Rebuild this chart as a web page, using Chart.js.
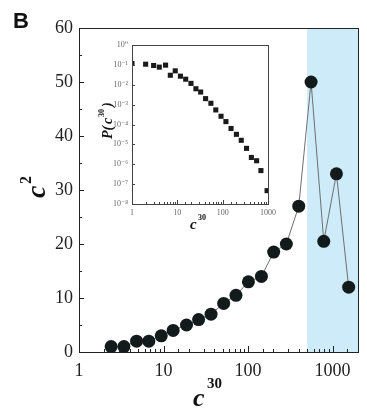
<!DOCTYPE html>
<html>
<head>
<meta charset="utf-8">
<script src="https://cdn.jsdelivr.net/npm/chart.js@4.4.0/dist/chart.umd.min.js"></script>
<style>
  body { margin: 0; background: #fff; }
  #wrap { position: relative; width: 367px; height: 416px; }
  #main { position: absolute; left: 0; top: 0; }
  #inset { position: absolute; left: 90px; top: 35px; }
</style>
</head>
<body>
<div id="wrap">
  <canvas id="main" width="367" height="416"></canvas>
  <canvas id="inset" width="190" height="205"></canvas>
</div>
<script>
// main panel: c30 vs c2
const mainX = [2.4, 3.4, 4.8, 6.7, 9.4, 13, 18.7, 26, 36.5, 51.5, 72, 101, 144, 201, 284, 398, 557, 787, 1112, 1551];
const mainY = [1, 1, 2, 2, 3, 4, 5, 6, 7, 9, 10.5, 13, 14, 18.5, 20, 27, 50, 20.5, 33, 12];
const mainXTicks = [1, 10, 100, 1000];
const bandRange = [500, 2000];

// inset: distribution P(c30)
const insetX = [1, 2, 3, 4, 5.5, 7, 9, 11.7, 15.3, 20, 25.7, 32.7, 42, 55, 70.5, 92, 118, 153, 201, 257, 336, 430, 561, 698, 955];
const insetY = [0.117, 0.108, 0.093, 0.077, 0.097, 0.03, 0.05, 0.027, 0.019, 0.0117, 0.0063, 0.0043, 0.002, 0.00117, 5.4e-4, 2.6e-4, 1.4e-4, 6.3e-5, 3.2e-5, 1.6e-5, 6.3e-6, 2.2e-6, 1.5e-6, 4.8e-7, 4.7e-8];

const SERIF = '"Liberation Serif", "DejaVu Serif", serif';

function isPow10(v) {
  const l = Math.log10(v);
  return Math.abs(l - Math.round(l)) < 1e-6;
}

function supText(n) {
  const map = { '-': '⁻', '0': '⁰', '1': '¹', '2': '²', '3': '³', '4': '⁴', '5': '⁵', '6': '⁶', '7': '⁷', '8': '⁸', '9': '⁹' };
  return String(n).split('').map(ch => map[ch]).join('');
}

// inward tick marks + box frame
function frameTicks(opts) {
  return {
    id: 'frameTicks',
    afterDraw(chart) {
      const { ctx, chartArea: a, scales } = chart;
      ctx.save();
      ctx.strokeStyle = opts.color;
      ctx.lineWidth = opts.lineWidth;
      ctx.beginPath();
      // x ticks
      scales.x.ticks.forEach(t => {
        const major = isPow10(t.value);
        if (!major && !opts.xMinor) return;
        const px = Math.round(scales.x.getPixelForValue(t.value)) + 0.5;
        const len = major ? opts.xMajor : opts.xMinorLen;
        ctx.moveTo(px, a.bottom);
        ctx.lineTo(px, a.bottom - len);
      });
      // y ticks
      const yt = scales.y.ticks.map(t => t.value);
      yt.forEach((v, i) => {
        if (scales.y.type === 'logarithmic' && !isPow10(v)) return;
        const py = Math.round(scales.y.getPixelForValue(v)) + 0.5;
        ctx.moveTo(a.left, py);
        ctx.lineTo(a.left + opts.yMajor, py);
        if (opts.yMinor && i < yt.length - 1) {
          const my = Math.round(scales.y.getPixelForValue((v + yt[i + 1]) / 2)) + 0.5;
          ctx.moveTo(a.left, my);
          ctx.lineTo(a.left + opts.yMinorLen, my);
        }
      });
      ctx.stroke();
      ctx.strokeRect(Math.round(a.left) + 0.5, Math.round(a.top) + 0.5,
        Math.round(a.right - a.left), Math.round(a.bottom - a.top));
      ctx.restore();
    }
  };
}

const bandPlugin = {
  id: 'band',
  beforeDatasetsDraw(chart) {
    const { ctx, chartArea: a, scales } = chart;
    const x0 = scales.x.getPixelForValue(bandRange[0]);
    const x1 = scales.x.getPixelForValue(bandRange[1]);
    ctx.save();
    ctx.fillStyle = '#cdebf8';
    ctx.fillRect(x0, a.top, x1 - x0, a.bottom - a.top);
    ctx.restore();
  }
};

const mainLabels = {
  id: 'mainLabels',
  afterDraw(chart) {
    const ctx = chart.ctx;
    ctx.save();
    ctx.fillStyle = '#111';
    ctx.font = 'bold 22px "Liberation Sans", Arial, sans-serif';
    ctx.textBaseline = 'alphabetic';
    ctx.fillText('B', 13, 28);

    // x title c^30
    ctx.font = 'bold italic 26px ' + SERIF;
    ctx.fillText('c', 193, 406);
    ctx.font = 'bold 15px ' + SERIF;
    ctx.fillText('30', 207, 388);

    // y title c^2 (rotated)
    ctx.translate(45, 198);
    ctx.rotate(-Math.PI / 2);
    ctx.font = 'bold italic 28px ' + SERIF;
    ctx.fillText('c', 0, 0);
    ctx.font = 'bold 16px ' + SERIF;
    ctx.fillText('2', 14, -14);
    ctx.restore();
  }
};

new Chart(document.getElementById('main'), {
  type: 'scatter',
  data: {
    datasets: [{
      data: mainX.map((x, i) => ({ x, y: mainY[i] })),
      showLine: true,
      borderColor: '#6f6f6f',
      borderWidth: 1,
      pointRadius: 6.5,
      pointBackgroundColor: '#131a1c',
      pointBorderColor: '#131a1c',
      pointBorderWidth: 0
    }]
  },
  options: {
    responsive: false,
    animation: false,
    layout: { padding: { left: 0, top: 28, right: 9, bottom: 0 } },
    plugins: { legend: { display: false }, tooltip: { enabled: false } },
    scales: {
      x: {
        type: 'logarithmic',
        min: 1,
        max: 2000,
        grid: { display: false, drawTicks: false },
        border: { display: false },
        afterFit(s) { s.height = 64; },
        ticks: {
          autoSkip: false,
          maxRotation: 0,
          padding: 8,
          color: '#222',
          font: { family: SERIF, size: 18 },
          callback: v => mainXTicks.includes(v) ? String(v) : ''
        }
      },
      y: {
        min: 0,
        max: 60,
        grid: { display: false, drawTicks: false },
        border: { display: false },
        afterFit(s) { s.width = 79; },
        ticks: {
          stepSize: 10,
          padding: 6,
          color: '#222',
          font: { family: SERIF, size: 18 }
        }
      }
    }
  },
  plugins: [bandPlugin, frameTicks({ color: '#222', lineWidth: 1, xMinor: true, xMajor: 6, xMinorLen: 3, yMajor: 5, yMinor: true, yMinorLen: 3 }), mainLabels]
});

const insetLabels = {
  id: 'insetLabels',
  afterDraw(chart) {
    const ctx = chart.ctx;
    ctx.save();
    ctx.fillStyle = '#111';
    ctx.textBaseline = 'alphabetic';
    ctx.font = 'bold italic 15px ' + SERIF;
    ctx.fillText('c', 100, 194);
    ctx.font = 'bold 8px ' + SERIF;
    ctx.fillText('30', 108, 185);

    ctx.translate(22, 104);
    ctx.rotate(-Math.PI / 2);
    ctx.font = 'bold italic 14px ' + SERIF;
    ctx.fillText('P(', 0, 0);
    ctx.fillText('c', 15, 0);
    ctx.font = 'bold 8px ' + SERIF;
    ctx.fillText('30', 22, -8);
    ctx.font = 'bold italic 14px ' + SERIF;
    ctx.fillText(')', 32, 0);
    ctx.restore();
  }
};

new Chart(document.getElementById('inset'), {
  type: 'scatter',
  data: {
    datasets: [{
      data: insetX.map((x, i) => ({ x, y: insetY[i] })),
      pointStyle: 'rect',
      pointRadius: 3.6,
      pointBackgroundColor: '#1a1a1a',
      pointBorderColor: '#1a1a1a',
      pointBorderWidth: 0
    }]
  },
  options: {
    responsive: false,
    animation: false,
    layout: { padding: { left: 0, top: 10, right: 9, bottom: 0 } },
    plugins: { legend: { display: false }, tooltip: { enabled: false } },
    scales: {
      x: {
        type: 'logarithmic',
        min: 1,
        max: 1000,
        grid: { display: false, drawTicks: false },
        border: { display: false },
        afterFit(s) { s.height = 36; },
        ticks: {
          autoSkip: false,
          maxRotation: 0,
          padding: 4,
          color: '#666',
          font: { family: SERIF, size: 8 },
          callback: v => isPow10(v) ? String(Math.round(v)) : ''
        }
      },
      y: {
        type: 'logarithmic',
        min: 1e-8,
        max: 1,
        grid: { display: false, drawTicks: false },
        border: { display: false },
        afterFit(s) { s.width = 42; },
        ticks: {
          autoSkip: false,
          padding: 4,
          color: '#666',
          font: { family: SERIF, size: 8 },
          callback: v => isPow10(v) ? '10' + supText(Math.round(Math.log10(v))) : ''
        }
      }
    }
  },
  plugins: [frameTicks({ color: '#444', lineWidth: 1, xMinor: true, xMajor: 4, xMinorLen: 2, yMajor: 3, yMinor: false }), insetLabels]
});
</script>
</body>
</html>
